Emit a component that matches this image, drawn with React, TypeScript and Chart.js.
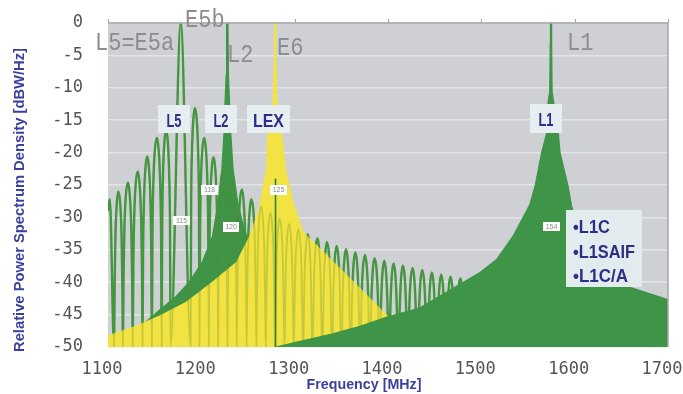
import React, { useEffect, useRef } from "react";
import { Chart, registerables } from "chart.js";

Chart.register(...registerables);

// ---- Data ----
// E5 / L5 lobe train (line, not filled): first point, lobe peaks and nulls
const e5StartFreq = 1100;
const e5StartDb = -29;
const e5PeakFreq = [1102, 1111, 1121.5, 1132, 1142, 1152.5, 1162.5, 1178, 1193, 1203, 1213, 1223, 1233, 1243.5, 1253.5, 1264, 1274, 1284, 1294, 1304, 1314, 1324.5, 1334.5, 1345, 1355, 1365, 1375.5, 1385.5, 1396, 1406, 1416, 1426.5, 1436.5, 1447, 1457, 1467, 1477.5, 1488, 1498];
const e5PeakDb = [-27.2, -26, -24.6, -22.9, -20.6, -17.7, -16.5, 0, -13.1, -17.7, -20.7, -22.8, -24.3, -25.7, -27.2, -28.3, -29.3, -30.2, -31, -31.8, -32.6, -33.2, -33.8, -34.4, -34.9, -35.4, -35.8, -36.3, -36.7, -37.1, -37.4, -37.8, -38.1, -38.5, -38.8, -39.1, -39.4, -39.7, -40];
const e5NullFreq = [1106.5, 1116, 1126.5, 1137, 1147, 1157.5, 1167, 1188.5, 1198, 1208, 1218, 1228, 1238, 1248.5, 1259, 1269, 1279, 1289, 1299, 1309, 1319, 1329.5, 1340, 1350, 1360, 1370, 1380.5, 1391, 1401, 1411, 1421, 1431.5, 1442, 1452, 1462, 1472, 1483, 1493, 1503];
const e5NullDb = -50;
// side-lobe outline: position across the lobe (fraction of its width from a null)
// and how far below the lobe peak the outline is there (dB)
const lobeShapeFrac = [0.06, 0.15, 0.3];
const lobeShapeDrop = [15, 7, 2];
const e5MainLobe = 7; // the 0 dB main lobe keeps its own narrow outline

// L2 (filled green)
const l2Freq = [1100, 1130, 1156, 1173, 1187, 1201, 1212, 1218, 1222, 1224.3, 1225.3, 1226.6, 1227.1, 1228.5, 1229, 1230.3, 1231.5, 1234, 1239, 1246, 1258, 1275, 1300, 1330, 1360];
const l2Db = [-49.5, -47.5, -44.2, -42.2, -40, -36.9, -32.9, -27.7, -22.6, -17, -12.5, -8, 0, 0, -8, -12.5, -17, -22.6, -27.7, -32, -36, -40, -44, -47.5, -50];

// LEX / E6 (filled yellow)
const lexFreq = [1100, 1130, 1156, 1184, 1212, 1238, 1252, 1262, 1270, 1271.5, 1277.2, 1277.9, 1278.3, 1279.3, 1279.8, 1280.8, 1286, 1290, 1298, 1309, 1340, 1370, 1399, 1430, 1460];
const lexDb = [-48.3, -46.8, -45.2, -43.1, -40, -36.9, -32.9, -28.8, -22.6, -17, -12, -6, 0, 0, -6, -12, -17, -22.6, -27.7, -32.3, -36.7, -41, -45.2, -48.5, -50];

// L1 (filled green)
const l1Freq = [1280, 1300, 1340, 1370, 1399, 1434, 1474, 1498.6, 1516.4, 1534, 1552, 1557.5, 1564.6, 1570, 1571.5, 1573.3, 1573.8, 1574.1, 1575, 1575.3, 1575.8, 1577.5, 1582.5, 1584.3, 1593, 1596.8, 1605, 1620, 1640, 1655, 1700];
const l1Db = [-50, -49.3, -48, -46.8, -45.4, -44, -40.6, -38.5, -36.5, -32.9, -28, -25.2, -20, -17, -12.2, -10.6, -3, 0, 0, -3, -10.6, -12.2, -17, -20, -25.2, -28.3, -32, -36, -39.5, -40.6, -42.7];

// E6 centre marker line
const markerFreq = [1279.5, 1279.5];
const markerDb = [-24, -50];

// Axis ranges / ticks
const xMin = 1100, xMax = 1700, xStep = 100;
const yMin = -50, yMax = 0, yStep = 5;

// Text
const bandTexts = ["L5=E5a", "E5b", "L2", "E6", "L1"];
const boxTexts = ["L5", "L2", "LEX", "L1"];
const legendTexts = ["\u2022L1C", "\u2022L1SAIF", "\u2022L1C/A"];
const tagTexts = ["115", "118", "120", "125", "154"];
const yTitle = "Relative Power Spectrum Density [dBW/Hz]";
const xTitle = "Frequency [MHz]";

// ---- helpers ----
const GREEN = "#3e9447";
const GREEN_LINE = "#3f9a48";
const YELLOW = "#f2e342";
const NAVY = "#2c2f85";
const TITLE_BLUE = "#3d3fa0";
const MONO = '"Liberation Mono", "DejaVu Sans Mono", monospace';
const SANS = '"Liberation Sans", Arial, sans-serif';

function pts(xs: number[], ys: number[]) {
  return xs.map((x, i) => ({ x, y: ys[i] }));
}

function e5Points() {
  const p: { x: number; y: number }[] = [{ x: e5StartFreq, y: e5StartDb }];
  e5NullFreq.forEach((f) => p.push({ x: f, y: e5NullDb }));
  e5PeakFreq.forEach((f, i) => {
    const pk = e5PeakDb[i];
    p.push({ x: f, y: pk });
    if (i === e5MainLobe) return;
    const left = [...e5NullFreq].reverse().find((n) => n < f);
    const right = e5NullFreq.find((n) => n > f);
    if (left === undefined || right === undefined) return;
    const w = right - left;
    lobeShapeFrac.forEach((fr, k) => {
      const y = Math.max(pk - lobeShapeDrop[k], e5NullDb);
      p.push({ x: left + fr * w, y });
      p.push({ x: right - fr * w, y });
    });
  });
  return p.sort((a, b) => a.x - b.x);
}

type TOpt = {
  font: string;
  color: string;
  align?: "left" | "center" | "right";
  w?: number;
  sy?: number;
  rot?: number;
  baseline?: CanvasTextBaseline;
};

function drawText(ctx: CanvasRenderingContext2D, s: string, x: number, y: number, o: TOpt) {
  ctx.save();
  ctx.font = o.font;
  ctx.fillStyle = o.color;
  ctx.textAlign = "left";
  ctx.textBaseline = o.baseline || "alphabetic";
  const m = ctx.measureText(s).width;
  const sx = o.w ? o.w / m : 1;
  ctx.translate(x, y);
  if (o.rot) ctx.rotate(o.rot);
  ctx.scale(sx, o.sy || 1);
  const dx = o.align === "center" ? -m / 2 : o.align === "right" ? -m : 0;
  ctx.fillText(s, dx, 0);
  ctx.restore();
}

const decor = {
  id: "decor",
  beforeDraw(chart: any) {
    const { ctx, chartArea: a } = chart;
    ctx.save();
    ctx.fillStyle = "#cfd0d4";
    ctx.fillRect(a.left, a.top, a.right - a.left, a.bottom - a.top);
    ctx.restore();
  },
  afterDraw(chart: any) {
    const { ctx, chartArea: a, scales } = chart;
    const xs = scales.x;
    ctx.save();
    ctx.strokeStyle = "#a6a6a8";
    ctx.lineWidth = 1.5;
    ctx.beginPath();
    ctx.moveTo(a.left, a.top);
    ctx.lineTo(a.right, a.top);
    ctx.lineTo(a.right, a.bottom);
    ctx.stroke();
    ctx.lineWidth = 1;
    for (let f = xMin; f <= xMax; f += xStep) {
      const px = Math.round(xs.getPixelForValue(f)) + 0.5;
      ctx.beginPath();
      ctx.moveTo(px, a.top);
      ctx.lineTo(px, a.top - 4);
      ctx.stroke();
    }
    ctx.restore();

    const bandFont = `22px ${MONO}`;
    const bandPos = [
      [95, 50],
      [185, 27],
      [227, 62],
      [277, 55],
      [567, 50],
    ];
    bandTexts.forEach((t, i) =>
      drawText(ctx, t, bandPos[i][0], bandPos[i][1], { font: bandFont, color: "#8d8d8f", sy: 1.2 })
    );

    const boxes = [
      [158, 105, 32, 28, 15],
      [205, 105, 32, 28, 15],
      [247, 105, 43, 28, 31],
      [530, 104, 32, 29, 15],
    ];
    boxTexts.forEach((t, i) => {
      const [bx, by, bw, bh, tw] = boxes[i];
      ctx.save();
      ctx.fillStyle = "#e7eef1";
      ctx.fillRect(bx, by, bw, bh);
      ctx.restore();
      drawText(ctx, t, bx + bw / 2, by + 22, { font: `bold 19px ${SANS}`, color: NAVY, align: "center", w: tw });
    });

    ctx.save();
    ctx.fillStyle = "#e2ebee";
    ctx.fillRect(566, 210, 76, 77);
    ctx.restore();
    const legY = [233, 258, 282];
    const legW = [37, 62, 55];
    legendTexts.forEach((t, i) =>
      drawText(ctx, t, 573, legY[i], { font: `bold 18px ${SANS}`, color: NAVY, w: legW[i] })
    );

    const tags = [
      [173, 216, 17, 9],
      [201, 185, 17, 10],
      [223, 222, 16, 10],
      [270, 185, 17, 10],
      [543, 222, 17, 9],
    ];
    tagTexts.forEach((t, i) => {
      const [tx, ty, tw, th] = tags[i];
      ctx.save();
      ctx.fillStyle = "#ffffff";
      ctx.fillRect(tx, ty, tw, th);
      ctx.restore();
      drawText(ctx, t, tx + tw / 2, ty + th / 2 + 0.5, {
        font: `7px ${SANS}`,
        color: "#8a8a8a",
        align: "center",
        baseline: "middle",
      });
    });

    drawText(ctx, yTitle, 20, 200, {
      font: `bold 15px ${SANS}`,
      color: TITLE_BLUE,
      align: "center",
      baseline: "middle",
      rot: -Math.PI / 2,
      w: 304,
    });
    drawText(ctx, xTitle, 364, 385, {
      font: `bold 15px ${SANS}`,
      color: TITLE_BLUE,
      align: "center",
      baseline: "middle",
      w: 115,
    });
  },
};

export default function App() {
  const ref = useRef<HTMLCanvasElement>(null);

  useEffect(() => {
    const e5 = e5Points();
    const chart = new Chart(ref.current as HTMLCanvasElement, {
      type: "line",
      data: {
        datasets: [
          {
            label: "E5",
            data: e5,
            borderColor: GREEN_LINE,
            borderWidth: 2.4,
            cubicInterpolationMode: "monotone",
            fill: false,
            pointRadius: 0,
            order: 6,
          },
          {
            label: "L2",
            data: pts(l2Freq, l2Db),
            borderColor: GREEN,
            backgroundColor: GREEN,
            borderWidth: 1.2,
            fill: "start",
            pointRadius: 0,
            order: 5,
          },
          {
            label: "LEX",
            data: pts(lexFreq, lexDb),
            borderColor: YELLOW,
            backgroundColor: YELLOW,
            borderWidth: 1.2,
            fill: "start",
            pointRadius: 0,
            order: 4,
          },
          {
            label: "E5 (through)",
            data: e5,
            borderColor: "rgba(90,140,40,0.3)",
            borderWidth: 1.8,
            cubicInterpolationMode: "monotone",
            fill: false,
            pointRadius: 0,
            order: 3,
          },
          {
            label: "L1",
            data: pts(l1Freq, l1Db),
            borderColor: GREEN,
            backgroundColor: GREEN,
            borderWidth: 1.2,
            fill: "start",
            pointRadius: 0,
            order: 2,
          },
          {
            label: "E6 marker",
            data: pts(markerFreq, markerDb),
            borderColor: "#2f8036",
            borderWidth: 1.6,
            fill: false,
            pointRadius: 0,
            order: 1,
          },
        ],
      },
      options: {
        animation: false,
        responsive: false,
        devicePixelRatio: 1,
        layout: { padding: { top: 23, right: 15, left: 0, bottom: 0 } },
        plugins: { legend: { display: false }, tooltip: { enabled: false } },
        scales: {
          x: {
            type: "linear",
            min: xMin,
            max: xMax,
            grid: { display: false, drawTicks: false },
            border: { display: false },
            ticks: {
              stepSize: xStep,
              padding: 12,
              labelOffset: -6,
              color: "#555555",
              font: { family: '"DejaVu Sans Mono", monospace', size: 17 },
              maxRotation: 0,
              autoSkip: false,
              callback: (v: any) => String(v),
            },
            afterFit: (s: any) => {
              s.height = 47;
              s.paddingLeft = 0;
              s.paddingRight = 0;
            },
          },
          y: {
            type: "linear",
            min: yMin,
            max: yMax,
            grid: { color: "#e3e4e6", lineWidth: 1.5, drawTicks: false },
            border: { display: false },
            ticks: {
              stepSize: yStep,
              padding: 25,
              color: "#555555",
              font: { family: '"DejaVu Sans Mono", monospace', size: 17 },
              callback: (v: any) => String(v),
            },
            afterFit: (s: any) => {
              s.width = 108;
              s.paddingTop = 0;
              s.paddingBottom = 0;
            },
          },
        },
      },
      plugins: [decor],
    } as any);
    return () => chart.destroy();
  }, []);

  return (
    <div style={{ position: "fixed", left: 0, top: 0, width: 683, height: 394, background: "#ffffff" }}>
      <canvas ref={ref} width={683} height={394} style={{ display: "block", width: 683, height: 394 }} />
    </div>
  );
}
